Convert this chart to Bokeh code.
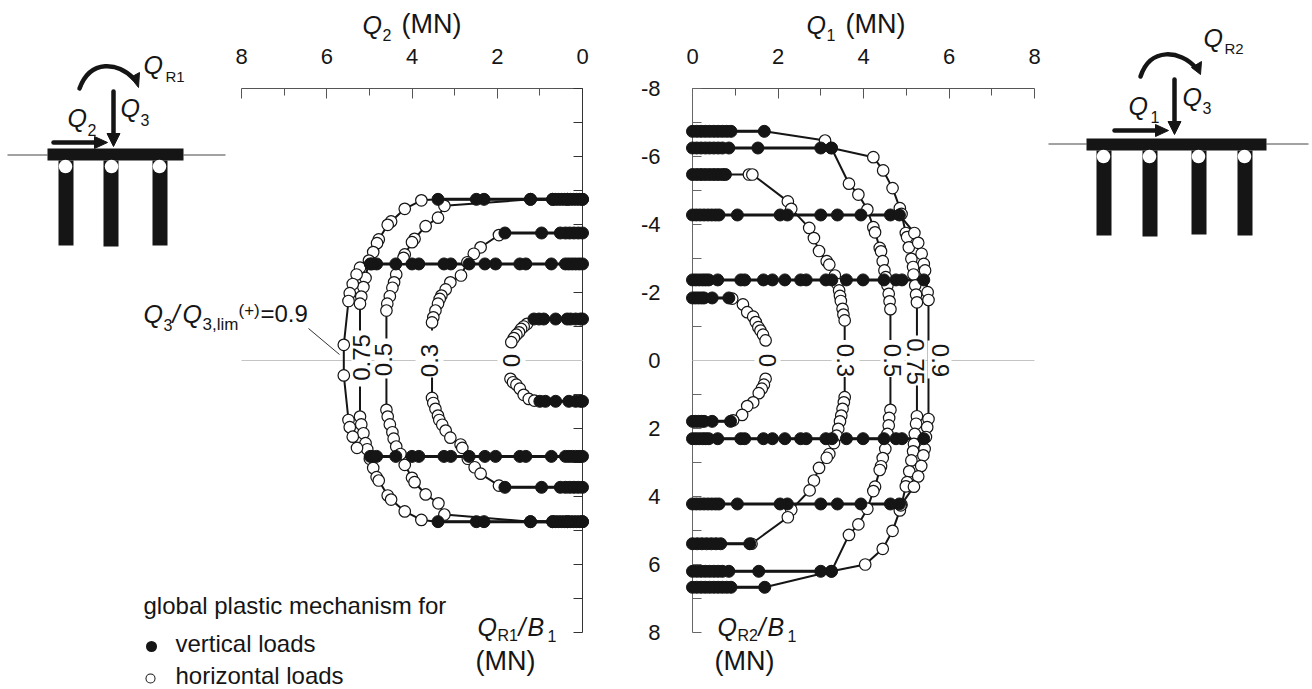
from math import pi
from bokeh.embed import file_html
from bokeh.resources import INLINE
from bokeh.layouts import row
from bokeh.models import FixedTicker, Range1d
from bokeh.plotting import figure
from bokeh.core.properties import value

FONT = value("Liberation Sans")
INK = "#151515"

x_ticks = [0, 2, 4, 6, 8]
x_minor = [1, 3, 5, 7]
y_ticks = [-8, -6, -4, -2, 0, 2, 4, 6, 8]
y_minor = [-7, -5, -3, -1, 1, 3, 5, 7]

# ---------- left panel: Q2 against QR1/B1 ----------
# each curve: vertical-mechanism points (top plateau), horizontal-mechanism points, vertical points (bottom plateau)
L00_vt_x = [0, 0.05, 0.16, 0.28, 0.36, 0.63, 0.91, 1.02, 1.14]
L00_vt_y = -1.22
L00_h_x = [1.30, 1.38, 1.44, 1.49, 1.55, 1.61, 1.67, 1.69, 1.63, 1.55, 1.47, 1.38, 1.26, 1.13]
L00_h_y = [-1.08, -1.00, -0.93, -0.83, -0.76, -0.66, -0.54, 0.54, 0.64, 0.71, 0.83, 1.01, 1.13, 1.18]
L00_vb_x = [1.00, 0.87, 0.63, 0.32, 0.16, 0.05, 0]
L00_vb_y = 1.20

L03_vt_x = [0, 0.1, 0.2, 0.3, 0.4, 0.52, 0.96, 1.82]
L03_vt_y = -3.75
L03_h_x = [1.96, 2.39, 2.55, 2.70, 2.85, 3.10, 3.21, 3.31, 3.35, 3.39, 3.45, 3.50, 3.53,
           3.53, 3.50, 3.45, 3.39, 3.36, 3.29, 3.21, 3.10, 2.86, 2.82, 2.69, 2.53, 2.39, 1.96]
L03_h_y = [-3.69, -3.33, -3.14, -2.89, -2.50, -2.30, -2.09, -1.91, -1.81, -1.67, -1.47, -1.27, -1.12,
           1.10, 1.25, 1.42, 1.62, 1.75, 1.89, 2.06, 2.27, 2.47, 2.57, 2.89, 3.14, 3.33, 3.68]
L03_vb_x = [1.82, 0.96, 0.52, 0.4, 0.3, 0.2, 0.1, 0]
L03_vb_y = 3.73

L05_vt_x = [0, 0.07, 0.14, 0.21, 0.28, 0.35, 0.42, 0.49, 0.56, 0.63, 0.7, 1.22]
L05_vt_y = -4.74
L05_h_x = [3.24, 3.39, 3.68, 3.94, 4.00, 4.17, 4.20, 4.37, 4.42, 4.46, 4.52, 4.58, 4.60,
           4.60, 4.57, 4.52, 4.46, 4.43, 4.37, 4.27, 4.17, 4.00, 3.94, 3.68, 3.38, 3.24]
L05_h_y = [-4.55, -4.20, -3.95, -3.58, -3.48, -3.12, -3.02, -2.53, -2.30, -2.14, -1.89, -1.67, -1.47,
           1.45, 1.65, 1.88, 2.11, 2.30, 2.53, 2.75, 3.07, 3.45, 3.58, 3.94, 4.20, 4.53]
L05_vb_x = [1.22, 0.7, 0.63, 0.56, 0.49, 0.42, 0.35, 0.28, 0.21, 0.14, 0.07, 0]
L05_vb_y = 4.74

L75_vt_x = [0, 0.35, 0.7, 1.22, 2.31, 2.49, 3.39]
L75_vt_y = -4.74
L75_h_x = [3.78, 4.17, 4.49, 4.57, 4.78, 4.82, 4.91, 5.01, 5.09, 5.14, 5.19, 5.22,
           5.22, 5.19, 5.14, 5.09, 5.05, 4.99, 4.91, 4.83, 4.78, 4.57, 4.49, 4.17, 3.78]
L75_h_y = [-4.71, -4.46, -4.09, -3.99, -3.56, -3.45, -3.19, -2.94, -2.43, -2.16, -1.88, -1.67,
           1.65, 1.88, 2.14, 2.43, 2.61, 2.89, 3.16, 3.43, 3.53, 3.97, 4.09, 4.44, 4.69]
L75_vb_x = [3.39, 2.49, 2.31, 1.22, 0.7, 0.35, 0]
L75_vb_y = 4.74

L90_v_x = [0, 0.08, 0.16, 0.24, 0.32, 0.40, 0.73, 1.33, 1.47, 2.04, 2.29, 2.66, 3.09, 3.25, 3.84, 4.00, 4.38, 4.83, 4.94, 4.98]
L90_vt_y = -2.84
L90_h_x = [5.22, 5.30, 5.39, 5.46, 5.49, 5.60, 5.60, 5.49, 5.46, 5.39, 5.29]
L90_h_y = [-2.73, -2.53, -2.25, -1.98, -1.75, -0.46, 0.44, 1.75, 1.96, 2.24, 2.57]
L90_vb_y = 2.82

# ---------- right panel: Q1 against QR2/B1 ----------
R00_vt_x = [0, 0.07, 0.14, 0.21, 0.27, 0.46, 0.85]
R00_vt_y = -1.84
R00_h_x = [0.93, 1.18, 1.28, 1.42, 1.48, 1.54, 1.59, 1.65, 1.71, 1.71, 1.67, 1.62, 1.55, 1.42, 1.28, 1.16, 0.95]
R00_h_y = [-1.82, -1.65, -1.42, -1.29, -1.13, -0.98, -0.88, -0.76, -0.59, 0.54, 0.71, 0.83, 0.96, 1.23, 1.34, 1.60, 1.76]
R00_vb_x = [0.89, 0.46, 0.27, 0.21, 0.14, 0.07, 0]
R00_vb_y = 1.79

R03_vt_x = [0, 0.1, 0.2, 0.3, 0.4, 0.5, 0.6, 0.7, 0.77]
R03_vt_y = -5.47
R03_h_x = [1.32, 1.40, 2.23, 2.31, 2.73, 2.84, 2.96, 3.14, 3.20, 3.33, 3.39, 3.43, 3.45, 3.47, 3.51, 3.53, 3.56,
           3.56, 3.54, 3.51, 3.48, 3.45, 3.41, 3.37, 3.31, 3.20, 3.14, 2.96, 2.84, 2.74, 2.31, 2.23, 1.38]
R03_h_y = [-5.47, -5.47, -4.68, -4.46, -3.90, -3.60, -3.22, -2.92, -2.82, -2.50, -2.25, -2.06, -1.90, -1.75, -1.52, -1.35, -1.18,
           1.08, 1.23, 1.42, 1.62, 1.79, 2.01, 2.21, 2.43, 2.75, 2.86, 3.16, 3.53, 3.82, 4.39, 4.61, 5.39]
R03_vb_x = [1.34, 0.66, 0.55, 0.44, 0.33, 0.22, 0.11, 0]
R03_vb_y = 5.39

R05_vt_x = [0, 0.1, 0.2, 0.3, 0.4, 0.5, 0.6, 0.7, 0.85, 1.53, 3.00, 3.25]
R05_vt_y = -6.25
R05_h_x = [3.66, 3.88, 4.09, 4.23, 4.27, 4.38, 4.41, 4.45, 4.49, 4.52, 4.56, 4.59, 4.61, 4.63,
           4.63, 4.60, 4.59, 4.56, 4.51, 4.45, 4.41, 4.38, 4.27, 4.23, 4.09, 3.88, 3.66]
R05_h_y = [-5.20, -4.88, -4.44, -3.92, -3.77, -3.31, -3.21, -2.92, -2.65, -2.45, -2.21, -1.96, -1.74, -1.51,
           1.45, 1.69, 1.91, 2.16, 2.60, 2.87, 3.11, 3.22, 3.71, 3.84, 4.36, 4.82, 5.13]
R05_vb_x = [3.25, 3.00, 1.55, 0.85, 0.7, 0.6, 0.5, 0.4, 0.3, 0.2, 0.1, 0]
R05_vb_y = 6.20

R75_vt_x = [0, 0.1, 0.2, 0.3, 0.4, 0.5, 0.6, 0.7, 0.8, 0.9, 1.68]
R75_vt_y = -6.74
R75_h_x = [3.10, 3.25, 4.23, 4.46, 4.68, 4.85, 4.89, 4.99, 5.02, 5.06, 5.12, 5.16, 5.17, 5.21, 5.23, 5.25,
           5.25, 5.23, 5.20, 5.18, 5.16, 5.12, 5.07, 5.02, 4.99, 4.89, 4.85, 4.68, 4.45, 4.04, 3.25]
R75_h_y = [-6.47, -6.25, -5.98, -5.59, -5.07, -4.48, -4.31, -3.75, -3.63, -3.33, -2.99, -2.75, -2.53, -2.21, -1.94, -1.71,
           1.64, 1.86, 2.16, 2.45, 2.67, 2.94, 3.26, 3.58, 3.70, 4.24, 4.41, 5.01, 5.54, 6.00, 6.20]
R75_vb_x = [1.69, 0.9, 0.8, 0.7, 0.6, 0.5, 0.4, 0.3, 0.2, 0.1, 0]
R75_vb_y = 6.67

R90_v_x = [0, 0.09, 0.18, 0.27, 0.36, 0.45, 0.54, 0.62, 1.05, 2.05, 2.22, 3.00, 3.39, 3.94, 4.63, 4.84]
R90_vt_y = -4.28
R90_h_x = [5.19, 5.28, 5.36, 5.41, 5.44, 5.50, 5.52, 5.52, 5.49, 5.46, 5.43, 5.40, 5.35, 5.28, 5.18, 4.87]
R90_h_y = [-3.75, -3.46, -3.14, -2.84, -2.65, -2.01, -1.78, 1.72, 1.96, 2.25, 2.60, 2.79, 3.10, 3.41, 3.71, 4.26]
R90_vb_y = 4.22

RE_v_x = [0, 0.08, 0.16, 0.24, 0.31, 0.38, 0.59, 1.13, 1.22, 1.66, 1.87, 2.16, 2.53, 2.66, 3.12, 3.26, 3.60, 3.99, 4.48, 4.76, 4.90, 5.41]
RE_vt_y = -2.37
RE_vb_y = 2.30

legend_title = "global plastic mechanism for"
legend_labels = ["vertical loads", "horizontal loads"]


def make_panel(x_range, xlim_px, xpad, axis_side, labels):
    p = figure(width=xpad[0] + (xlim_px[1] - xlim_px[0]) + xpad[1], height=689,
               x_range=Range1d(*x_range), y_range=Range1d(8, -8),
               x_axis_location="above", y_axis_location=axis_side,
               min_border_left=xpad[0], min_border_right=xpad[1], min_border_top=88, min_border_bottom=57,
               toolbar_location=None, output_backend="svg", outline_line_color=None)
    p.grid.visible = False
    p.extra_x_ranges = {"px": Range1d(*xlim_px)}
    p.extra_y_ranges = {"px": Range1d(632, 88)}
    ax = p.xaxis[0]
    ax.ticker = FixedTicker(ticks=x_ticks, minor_ticks=x_minor)
    ax.major_tick_in, ax.major_tick_out, ax.minor_tick_in, ax.minor_tick_out = 10, 0, 7, 0
    ax.axis_line_color = ax.major_tick_line_color = ax.minor_tick_line_color = "#555555"
    ax.major_label_text_font = "Liberation Sans"
    ax.major_label_text_font_size = "22px"
    ax.major_label_text_color = INK
    ax.major_label_standoff = 25
    ay = p.yaxis[0]
    ay.ticker = FixedTicker(ticks=y_ticks, minor_ticks=y_minor)
    ay.major_tick_in, ay.major_tick_out, ay.minor_tick_in, ay.minor_tick_out = 9, 0, 9, 0
    ay.axis_line_color = ay.major_tick_line_color = ay.minor_tick_line_color = "#333333" if axis_side == "right" else "#666666"
    ay.major_label_text_font = "Liberation Sans"
    ay.major_label_text_font_size = "22px"
    ay.major_label_text_color = INK
    ay.major_label_standoff = 32
    ay.major_label_overrides = {t: str(t) for t in y_ticks}
    if not labels:
        ay.major_label_text_color = None
    return p


PX = dict(x_range_name="px", y_range_name="px", level="annotation")


def txt(p, x, y, s, size=24, style="normal", angle=0, align="left", base="alphabetic"):
    if base == "alphabetic":
        y = y - 0.36 * size
    p.text(x=[x], y=[y], text=[s], text_font=FONT, text_font_size=f"{size}px", text_font_style=style,
           text_color=INK, angle=angle, text_align=align, text_baseline=base, **PX)


def dot(p, x, y, d, color):
    p.line([x, x + 0.01], [y, y], line_color=color, line_width=d, line_cap="round", **PX)


def draw_curve(p, vt_x, vt_y, h_x, h_y, vb_x, vb_y):
    xs = list(vt_x) + list(h_x) + list(vb_x)
    ys = [vt_y] * len(vt_x) + list(h_y) + [vb_y] * len(vb_x)
    p.line(xs, ys, line_color=INK, line_width=2, level="annotation")
    p.line(list(vt_x), [vt_y] * len(vt_x), line_color=INK, line_width=3, level="annotation")
    if len(vb_x):
        p.line(list(vb_x), [vb_y] * len(vb_x), line_color=INK, line_width=3, level="annotation")


def draw_open(p, vt_x, vt_y, h_x, h_y, vb_x, vb_y):
    if len(h_x):
        p.scatter(h_x, h_y, size=11.5, fill_color="white", line_color=INK, line_width=1.2, level="annotation")


def draw_solid(p, vt_x, vt_y, h_x, h_y, vb_x, vb_y):
    vx = list(vt_x) + list(vb_x)
    vy = [vt_y] * len(vt_x) + [vb_y] * len(vb_x)
    p.scatter(vx, vy, size=12, fill_color=INK, line_color=INK, level="annotation")


def schematic(p, ground, cap, piles, holes, q3, qh, curve, head):
    for g in ground:
        p.line(g[:2], [g[2], g[2]], line_color="#444444", line_width=1, **PX)
    p.quad(left=[cap[0]], right=[cap[1]], top=[cap[2]], bottom=[cap[3]], fill_color=INK, line_color=None, **PX)
    p.quad(left=[a[0] for a in piles], right=[a[1] for a in piles], top=[cap[3]] * len(piles),
           bottom=[a[2] for a in piles], fill_color=INK, line_color=None, **PX)
    for h in holes:
        dot(p, h, cap[3] + 6, 13.5, "white")
    p.line([q3[0], q3[0]], [q3[1], q3[2] - 11], line_color=INK, line_width=4.5, line_cap="round", **PX)
    p.patch([q3[0] - 6.5, q3[0] + 6.5, q3[0]], [q3[2] - 13, q3[2] - 13, q3[2]], color=INK, **PX)
    p.line([qh[1], qh[2] - 11], [qh[0], qh[0]], line_color=INK, line_width=4.5, line_cap="round", **PX)
    p.patch([qh[2] - 13, qh[2] - 13, qh[2]], [qh[0] - 6, qh[0] + 6, qh[0]], color=INK, **PX)
    p.bezier(x0=[curve[0]], y0=[curve[1]], x1=[curve[2]], y1=[curve[3]], cx0=[curve[4]], cy0=[curve[5]],
             cx1=[curve[6]], cy1=[curve[7]], line_color=INK, line_width=4.5, line_cap="round", **PX)
    p.patch(head[0], head[1], color=INK, **PX)


# ---------- left figure ----------
left = make_panel((8, 0), (241, 582), (241, 54), "right", False)
left.line([8, 0], [0, 0], line_color="#c4c4c4", line_width=1, level="annotation")
left_curves = [
    (L00_vt_x, L00_vt_y, L00_h_x, L00_h_y, L00_vb_x, L00_vb_y),
    (L03_vt_x, L03_vt_y, L03_h_x, L03_h_y, L03_vb_x, L03_vb_y),
    (L05_vt_x, L05_vt_y, L05_h_x, L05_h_y, L05_vb_x, L05_vb_y),
    (L75_vt_x, L75_vt_y, L75_h_x, L75_h_y, L75_vb_x, L75_vb_y),
    (L90_v_x, L90_vt_y, L90_h_x, L90_h_y, L90_v_x[::-1], L90_vb_y),
]
for c in left_curves:
    draw_curve(left, *c)
left.rect(x=[511, 429, 383, 361], y=[360, 353.5, 358, 358], width=[28, 28, 18, 20], height=[36, 47, 40, 56],
          fill_color="white", line_color=None, **PX)
for c in left_curves:
    draw_open(left, *c)
for c in left_curves:
    draw_solid(left, *c)
for x, y, s in [(511, 360, "0"), (429, 360, "0.3"), (383, 359, "0.5"), (361, 357, "0.75")]:
    txt(left, x, y, s, 24, angle=pi / 2, align="center", base="middle")
left.line([308, 339], [328, 354], line_color="#333333", line_width=1, **PX)

txt(left, 362, 33, "Q", 25, "italic"); txt(left, 382, 40, "2", 16); txt(left, 401, 33, "(MN)", 27)
# moment label
txt(left, 143, 322, "Q", 25, "italic"); txt(left, 163, 330, "3", 16); txt(left, 172, 322, "/", 25, "italic")
txt(left, 182, 322, "Q", 25, "italic"); txt(left, 202, 330, "3,lim", 17); txt(left, 238, 316, "(+)", 17)
txt(left, 260, 322, "=0.9", 24)
# axis end label
txt(left, 477, 635, "Q", 25, "italic"); txt(left, 497, 641, "R1", 16); txt(left, 518, 635, "/", 25, "italic")
txt(left, 527, 635, "B", 25, "italic"); txt(left, 547, 641, "1", 16); txt(left, 475, 670, "(MN)", 27)
# legend
txt(left, 143, 614, legend_title, 24)
txt(left, 175, 652, legend_labels[0], 24)
txt(left, 175, 684, legend_labels[1], 24)
dot(left, 151, 646, 11, INK)
dot(left, 150, 678, 10, INK)
dot(left, 150, 678, 8, "white")

schematic(left, [(7, 47, 154.5), (183, 225, 154.5)], (47, 183, 148, 160),
          [(58, 73, 245), (103, 118, 246), (152, 167, 245)], [65, 111, 159],
          (113, 91, 146), (142, 53, 107), (79, 88, 133, 78, 90, 58, 118, 62),
          ([130, 139, 138], [77, 72, 87]))
txt(left, 143, 73, "Q", 25, "italic"); txt(left, 165, 81, "R1", 15)
txt(left, 120, 116, "Q", 25, "italic"); txt(left, 140, 125, "3", 16)
txt(left, 67, 126, "Q", 25, "italic"); txt(left, 87, 135, "2", 16)

# ---------- right figure ----------
right = make_panel((0, 8), (692, 1034), (56, 278), "left", True)
right.line([0, 8], [0, 0], line_color="#c4c4c4", line_width=1, level="annotation")
right_curves = [
    (R00_vt_x, R00_vt_y, R00_h_x, R00_h_y, R00_vb_x, R00_vb_y),
    (R03_vt_x, R03_vt_y, R03_h_x, R03_h_y, R03_vb_x, R03_vb_y),
    (R05_vt_x, R05_vt_y, R05_h_x, R05_h_y, R05_vb_x, R05_vb_y),
    (R75_vt_x, R75_vt_y, R75_h_x, R75_h_y, R75_vb_x, R75_vb_y),
    (R90_v_x, R90_vt_y, R90_h_x, R90_h_y, R90_v_x[::-1], R90_vb_y),
    (RE_v_x, RE_vt_y, [], [], [], RE_vt_y),
    (RE_v_x, RE_vb_y, [], [], [], RE_vb_y),
]
for c in right_curves:
    draw_curve(right, *c)
right.rect(x=[767, 845, 892, 915, 939], y=[360, 358, 358, 360, 359], width=[26, 28, 24, 20, 24],
           height=[40, 37, 37, 50, 38], fill_color="white", line_color=None, **PX)
for c in right_curves:
    draw_open(right, *c)
for c in right_curves:
    draw_solid(right, *c)
for x, y, s in [(767, 360, "0"), (845, 360, "0.3"), (892, 360, "0.5"), (915, 361, "0.75"), (940, 360, "0.9")]:
    txt(right, x, y, s, 24, angle=-pi / 2, align="center", base="middle")

txt(right, 806, 33, "Q", 25, "italic"); txt(right, 826, 40, "1", 16); txt(right, 845, 33, "(MN)", 27)
txt(right, 717, 635, "Q", 25, "italic"); txt(right, 737, 641, "R2", 16); txt(right, 758, 635, "/", 25, "italic")
txt(right, 767, 635, "B", 25, "italic"); txt(right, 787, 641, "1", 16); txt(right, 714, 670, "(MN)", 27)

schematic(right, [(1048, 1086, 143.5), (1266, 1308, 143.5)], (1086, 1266, 138, 150),
          [(1096, 1111, 235), (1142, 1157, 236), (1191, 1206, 234), (1237, 1252, 235)], [1103, 1149, 1198, 1244],
          (1174, 79, 134), (130, 1114, 1168), (1140, 76, 1195, 67, 1150, 46, 1180, 50),
          ([1191, 1201, 1200], [67, 61, 74]))
txt(right, 1203, 46, "Q", 25, "italic"); txt(right, 1224, 53, "R2", 15)
txt(right, 1182, 105, "Q", 25, "italic"); txt(right, 1202, 113, "3", 16)
txt(right, 1128, 114, "Q", 25, "italic"); txt(right, 1150, 122, "1", 16)

page = row(left, right)
page.spacing = 0
open("out.html", "w").write(file_html(page, INLINE))
